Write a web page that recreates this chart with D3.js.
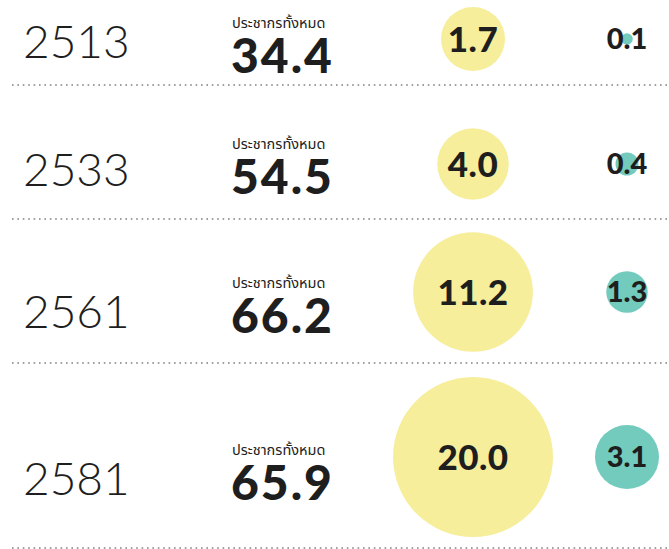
<!DOCTYPE html>
<html>
<head>
<meta charset="utf-8">
<script src="https://cdn.jsdelivr.net/npm/d3@7"></script>
<style>
    body { margin: 0; background: #fff; }
</style>
</head>
<body>
<svg id="chart"></svg>
<script>
// data (population, millions)
const years = ["2513", "2533", "2561", "2581"];
const totalPop = [34.4, 54.5, 66.2, 65.9];
const agedPop = [1.7, 4.0, 11.2, 20.0];
const oldestPop = [0.1, 0.4, 1.3, 3.1];
const popLabel = "ประชากรทั้งหมด";

const width = 669;
const height = 549;

const rows = years.map((year, i) => ({
    year,
    total: totalPop[i],
    aged: agedPop[i],
    oldest: oldestPop[i]
}));

// hand laid rows, the infographic isn't evenly spaced
const circleY = d3.scaleOrdinal().domain(years).range([39, 164, 292, 457]);
const numberY = d3.scaleOrdinal().domain(years).range([73, 194, 333, 500]);
const yearY = d3.scaleOrdinal().domain(years).range([58, 186, 328, 495]);
const dividerY = d3.scaleOrdinal().domain(years).range([85, 219, 363, 548]);

const col = { year: 23, total: 231, aged: 473, oldest: 627 };

const rAged = d3.scaleSqrt().domain([0, 20]).range([0, 80]);
const rOldest = d3.scaleSqrt().domain([0, 3.1]).range([0, 32]);
const minAged = 32; // keep the label inside

const svg = d3.select("#chart")
    .attr("width", width)
    .attr("height", height);

const row = svg.selectAll("g.row")
    .data(rows)
    .join("g")
    .attr("class", "row");

row.append("line")
    .attr("x1", 12)
    .attr("x2", width)
    .attr("y1", d => dividerY(d.year))
    .attr("y2", d => dividerY(d.year))
    .attr("stroke", "#a0a0a0")
    .attr("stroke-width", 2)
    .attr("stroke-dasharray", "1.6,3.8");

row.append("text")
    .attr("x", col.year)
    .attr("y", d => yearY(d.year))
    .attr("font-family", "Lato, 'Open Sans', sans-serif")
    .attr("font-weight", 300)
    .attr("font-size", "46px")
    .attr("fill", "#1e1e1e")
    .text(d => d.year);

row.append("text")
    .attr("x", col.total + 1)
    .attr("y", d => numberY(d.year) - 45)
    .attr("font-family", "'Noto Sans Thai', 'Noto Sans', 'DejaVu Sans', sans-serif")
    .attr("font-size", "14.5px")
    .attr("fill", "#222")
    .text(popLabel);

row.append("text")
    .attr("x", col.total)
    .attr("y", d => numberY(d.year))
    .attr("font-family", "Lato, Roboto, sans-serif")
    .attr("font-weight", 900)
    .attr("font-size", "48px")
    .attr("letter-spacing", "2px")
    .attr("fill", "#1e1e1e")
    .text(d => d.total.toFixed(1));

row.append("circle")
    .attr("cx", col.aged)
    .attr("cy", d => circleY(d.year))
    .attr("r", d => Math.max(minAged, rAged(d.aged)))
    .attr("fill", "#f6ee9b");

row.append("text")
    .attr("x", col.aged)
    .attr("y", d => circleY(d.year))
    .attr("dy", "0.36em")
    .attr("text-anchor", "middle")
    .attr("font-family", "Lato, Roboto, sans-serif")
    .attr("font-weight", 900)
    .attr("font-size", "35px")
    .attr("letter-spacing", "0.5px")
    .attr("fill", "#1e1e1e")
    .text(d => d.aged.toFixed(1));

row.append("circle")
    .attr("cx", col.oldest)
    .attr("cy", d => circleY(d.year))
    .attr("r", d => rOldest(d.oldest))
    .attr("fill", "#73cbbe");

row.append("text")
    .attr("x", col.oldest)
    .attr("y", d => circleY(d.year))
    .attr("dy", "0.36em")
    .attr("text-anchor", "middle")
    .attr("font-family", "Lato, Roboto, sans-serif")
    .attr("font-weight", 900)
    .attr("font-size", "29px")
    .attr("fill", "#1e1e1e")
    .text(d => d.oldest.toFixed(1));
</script>
</body>
</html>
